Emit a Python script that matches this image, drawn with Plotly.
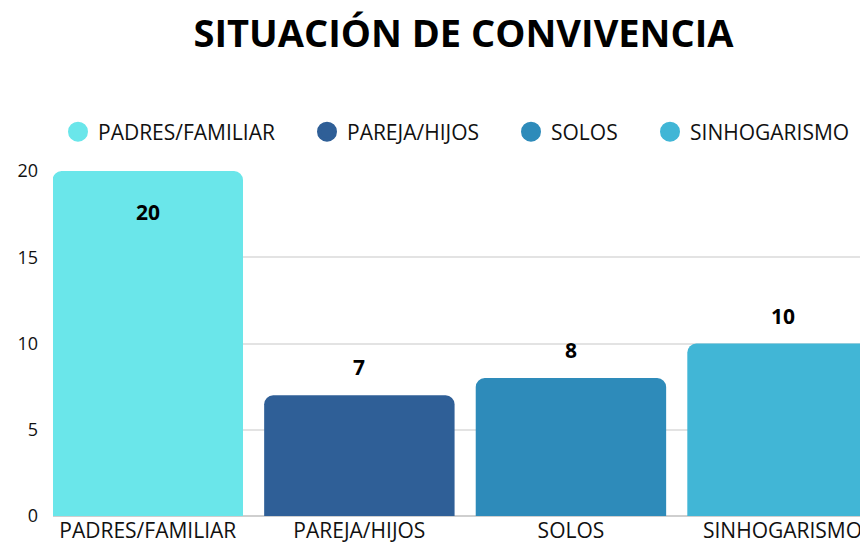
import plotly.graph_objects as go

categories = ["PADRES/FAMILIAR", "PAREJA/HIJOS", "SOLOS", "SINHOGARISMO"]
values = [20, 7, 8, 10]
colors = ["#6AE6EA", "#2F5F97", "#2E8BBA", "#41B6D6"]
title_text = "SITUACIÓN DE CONVIVENCIA"
y_ticks = [0, 5, 10, 15, 20]

FONT = "Open Sans"
W, H = 860, 539  # page has 8px body margin in an 868x547 window

fig = go.Figure()

for cat, val, col in zip(categories, values, colors):
    fig.add_trace(go.Bar(
        x=[cat], y=[val], marker=dict(color=col, cornerradius=9, line=dict(width=0)),
        showlegend=False, hoverinfo="x+y",
    ))

# legend entries, each in its own legend box so spacing can match
legend_x_px = [50, 299, 503, 642]
for i, (cat, col) in enumerate(zip(categories, colors)):
    lg = "legend" if i == 0 else f"legend{i + 1}"
    fig.add_trace(go.Scatter(
        x=[None], y=[None], mode="markers", name=cat, legend=lg,
        marker=dict(color=col, size=20, symbol="circle", line=dict(color=col, width=4)),
    ))
    fig.update_layout(**{lg: dict(
        orientation="h", xref="container", yref="container",
        x=legend_x_px[i] / W, xanchor="left",
        y=1 - 124 / H, yanchor="middle",
        font=dict(family=FONT, size=21, color="#111111"),
        bgcolor="rgba(0,0,0,0)",
    )})

for cat, val in zip(categories, values):
    inside = val >= 15
    fig.add_annotation(
        x=cat, y=val, text=f"<b>{val}</b>", showarrow=False,
        yshift=-41 if inside else 28,
        font=dict(family=FONT, size=21, color="#000000"),
    )

fig.update_layout(
    width=W, height=H,
    plot_bgcolor="white", paper_bgcolor="white",
    margin=dict(l=45, r=0, t=163, b=31),
    barmode="overlay", bargap=0.1,
    title=dict(text=f"<b>{title_text}</b>", x=455.5 / W, xanchor="center",
               y=1 - 26 / H, yanchor="middle", yref="container",
               font=dict(family=FONT, size=38, color="#000000")),
    font=dict(family=FONT, size=18, color="#111111"),
)

fig.update_xaxes(
    type="category", range=[-0.448, 3.404], showgrid=False,
    showline=False, ticks="", tickfont=dict(family=FONT, size=21, color="#111111"),
)
fig.update_yaxes(
    range=[0, 20], tickvals=y_ticks, showgrid=True, gridcolor="#E3E3E3", gridwidth=1.5,
    zeroline=True, zerolinecolor="#CFCFCF", zerolinewidth=1.5,
    ticks="", ticklabelstandoff=14,
    tickfont=dict(family=FONT, size=18, color="#111111"),
)

fig.write_html("out.html")
